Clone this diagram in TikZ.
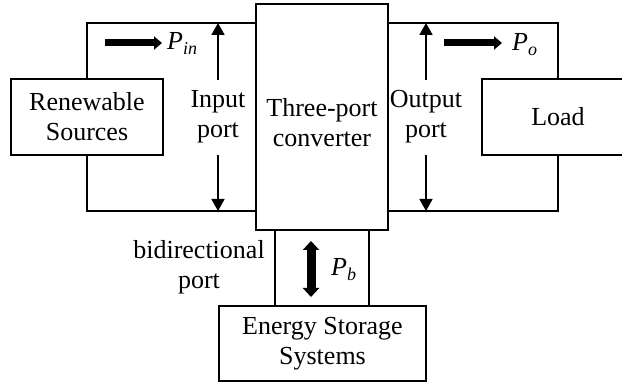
\documentclass[tikz,border=0pt]{standalone}
\usepackage{fontspec}
\setmainfont{Liberation Serif}
\usetikzlibrary{arrows.meta}
\newcommand{\powsub}[1]{\textit{P}\raisebox{-5pt}{\fontsize{18}{18}\selectfont\textit{#1}}}
\begin{document}
\begin{tikzpicture}[x=1pt,y=-1pt,
 box/.style={draw, line width=1.8pt, inner sep=0pt, align=center, font=\fontsize{26}{30}\selectfont},
 lbl/.style={inner sep=0pt, align=center, font=\fontsize{26}{30}\selectfont},
 wire/.style={line width=1.8pt},
 portarrow/.style={line width=1.8pt, -{Triangle[length=12pt,width=13pt]}},
 flowarrow/.style={line width=7pt, -{Triangle[length=8pt,width=13pt]}},
 bidiarrow/.style={line width=9pt, {Triangle[length=9pt,width=16pt]}-{Triangle[length=9pt,width=16pt]}},
]
\useasboundingbox (0,0) rectangle (622,382);
% boxes
\node[box, minimum width=152pt, minimum height=76pt] (ren) at (87,117) {Renewable\\Sources};
\node[box, minimum width=132pt, minimum height=226pt] (conv) at (322,117) {};
\node[lbl] (convtxt) at (322,123) {Three-port\\converter};
\node[box, minimum width=152pt, minimum height=76pt] (load) at (558,117) {Load};
\node[box, minimum width=207pt, minimum height=75pt] (ess) at (322.5,343.5) {Energy Storage\\Systems};
% labels
\node[lbl] (inlbl) at (218,117) {Input\\port};
\node[lbl] (outlbl) at (426,117) {Output\\port};
\node[lbl] (bilbl) at (199,267) {bidirectional\\port};
\node[lbl, anchor=base west] (pin) at (167,50) {\powsub{in}};
\node[lbl, anchor=base west] (po) at (512,51) {\powsub{o}};
\node[lbl, anchor=base west] (pb) at (331,276) {\powsub{b}};
% wire coordinates
\coordinate (topL) at (256,23);
\coordinate (botL) at (256,211);
\coordinate (topR) at (388,23);
\coordinate (botR) at (388,211);
\coordinate (bl) at (275,230);
\coordinate (br) at (369,230);
% wires
\draw[wire] (ren.north) |- (topL);
\draw[wire] (ren.south) |- (botL);
\draw[wire] (load.north) |- (topR);
\draw[wire] (load.south) |- (botR);
\draw[wire] (bl) -- (bl |- ess.north);
\draw[wire] (br) -- (br |- ess.north);
% port arrows
\coordinate (inU) at (218,80);
\coordinate (inD) at (218,155);
\coordinate (outU) at (426,80);
\coordinate (outD) at (426,155);
\draw[portarrow] (inU) -- (inU |- topL);
\draw[portarrow] (inD) -- (inD |- botL);
\draw[portarrow] (outU) -- (outU |- topR);
\draw[portarrow] (outD) -- (outD |- botR);
% power flow arrows
\coordinate (pinS) at (105,43);
\coordinate (pinE) at (162,43);
\coordinate (poS) at (444,43);
\coordinate (poE) at (502,43);
\draw[flowarrow] (pinS) -- (pinE);
\draw[flowarrow] (poS) -- (poE);
\coordinate (pbT) at (311,241);
\coordinate (pbB) at (311,297);
\draw[bidiarrow] (pbT) -- (pbB);
\end{tikzpicture}
\end{document}
